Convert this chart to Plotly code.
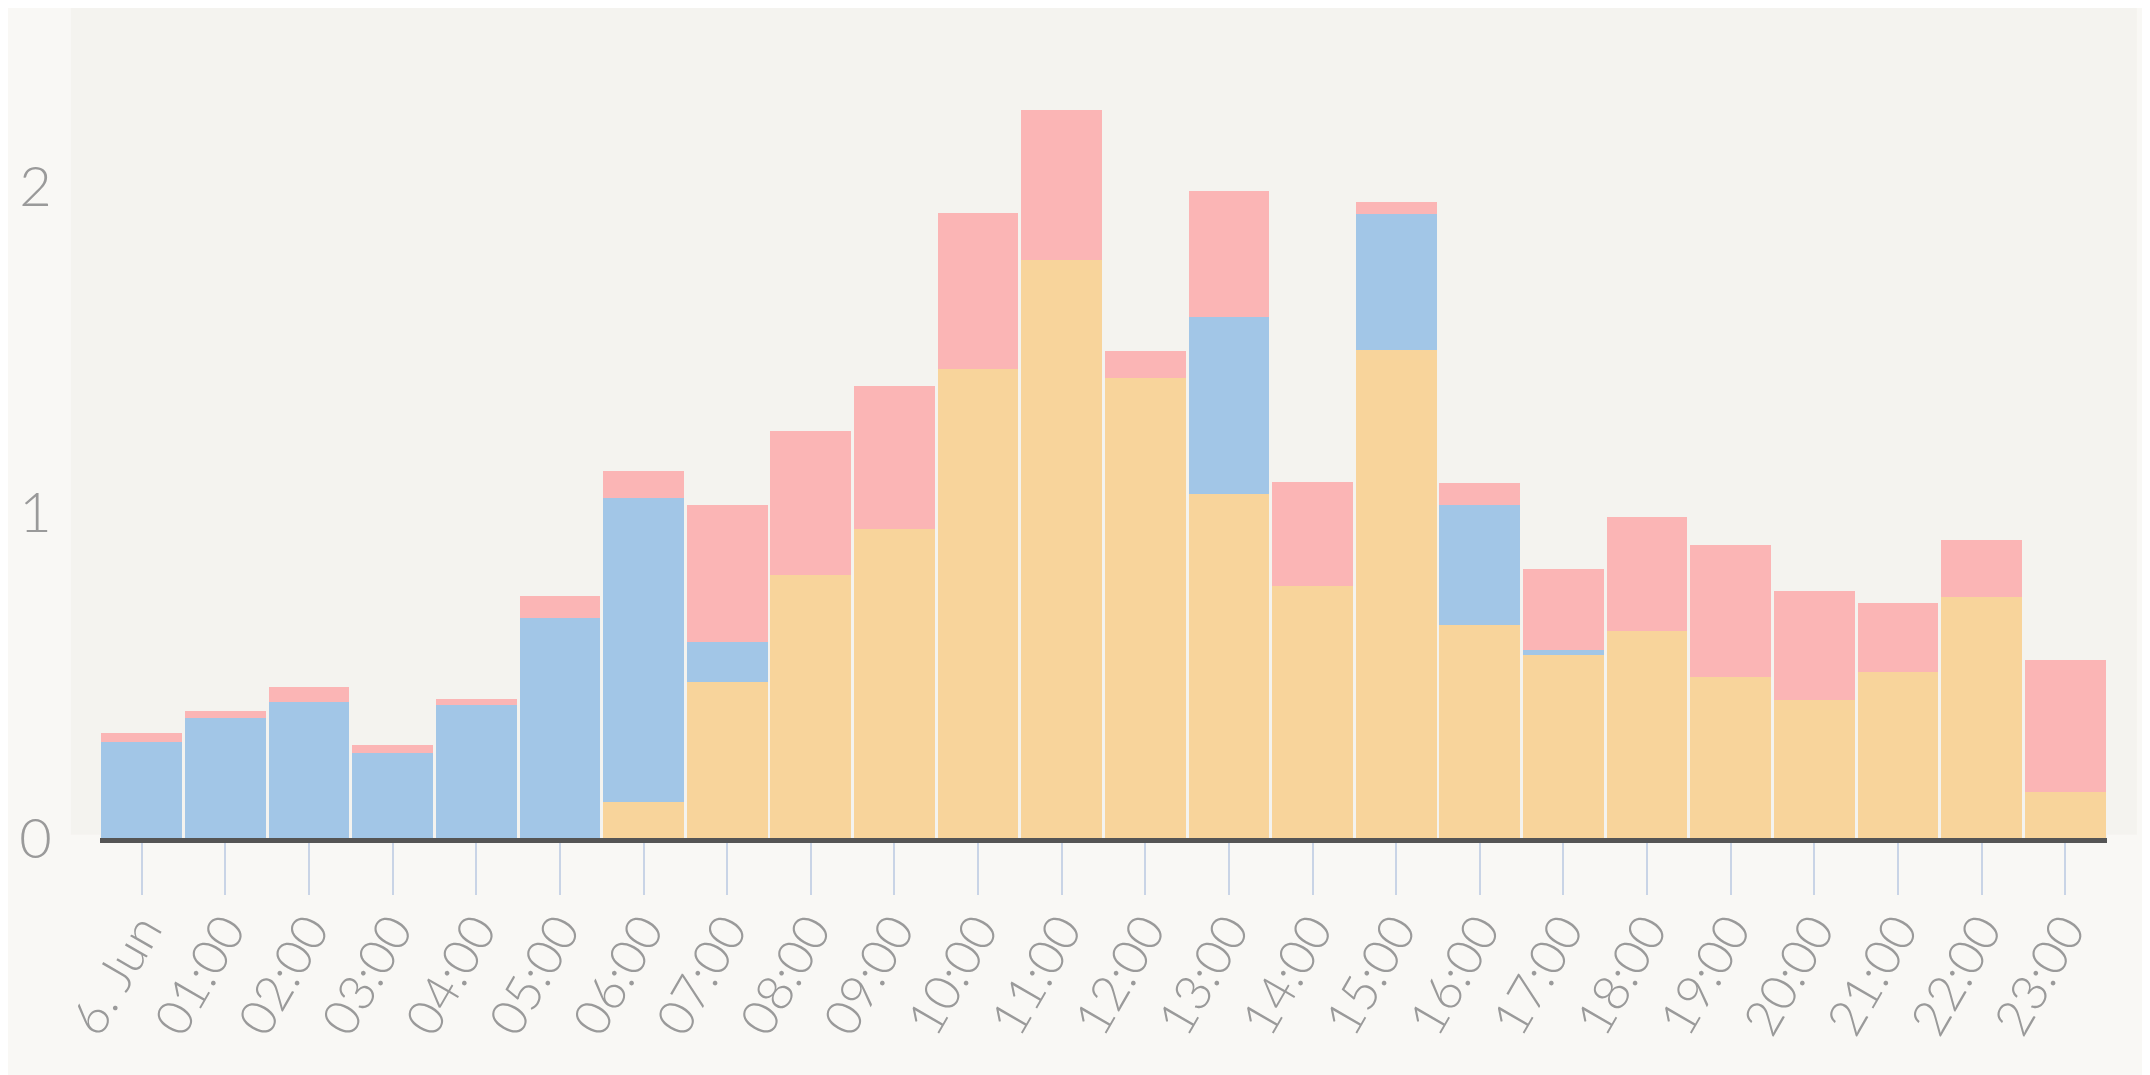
import plotly.graph_objects as go

hours = ["6. Jun", "01:00", "02:00", "03:00", "04:00", "05:00", "06:00", "07:00",
         "08:00", "09:00", "10:00", "11:00", "12:00", "13:00", "14:00", "15:00",
         "16:00", "17:00", "18:00", "19:00", "20:00", "21:00", "22:00", "23:00"]

orange = [0, 0, 0, 0, 0, 0, 0.111, 0.478, 0.808, 0.949, 1.440, 1.774,
          1.410, 1.054, 0.772, 1.497, 0.652, 0.561, 0.636, 0.495, 0.423, 0.510, 0.740, 0.140]
blue = [0.295, 0.367, 0.418, 0.262, 0.408, 0.674, 0.931, 0.122, 0, 0, 0, 0,
        0, 0.545, 0, 0.417, 0.368, 0.015, 0, 0, 0, 0, 0, 0]
pink = [0.026, 0.023, 0.044, 0.023, 0.017, 0.068, 0.085, 0.421, 0.439, 0.439, 0.476, 0.458,
        0.083, 0.387, 0.319, 0.038, 0.068, 0.248, 0.350, 0.404, 0.335, 0.210, 0.174, 0.406]

y_ticks = [0, 1, 2]

series = [("orange", orange, "#f8d49b"), ("blue", blue, "#a2c6e7"), ("pink", pink, "#fbb5b5")]

fig = go.Figure()
for name, vals, col in series:
    fig.add_trace(go.Bar(x=hours, y=vals, name=name, marker=dict(color=col, line=dict(width=0))))

fig.update_layout(
    width=2150, height=1075,
    barmode="stack", bargap=0.035,
    showlegend=False,
    paper_bgcolor="#f9f8f5",
    plot_bgcolor="#f4f3ef",
    margin=dict(l=92, r=51, t=0, b=245, pad=0, autoexpand=False),
    shapes=[dict(type="rect", xref="paper", yref="paper", x0=-0.0145, x1=1.0149,
                 y0=0.004, y1=1, fillcolor="#f4f3ef", line=dict(width=0), layer="below")],
    xaxis=dict(
        type="category", range=[-0.5, 23.5], automargin=False,
        showgrid=False, zeroline=False,
        showline=True, linecolor="#555555", linewidth=5,
        ticks="outside", ticklen=52, tickwidth=1.5, tickcolor="#c9d4e6",
        tickangle=-60, ticklabelstandoff=-14,
        tickfont=dict(family="Lato Light, Lato", size=50, color="#9a9a9a", weight=300),
    ),
    yaxis=dict(
        range=[0, 2.546], tickvals=y_ticks, automargin=False,
        showgrid=False, zeroline=False, showline=False,
        ticks="outside", ticklen=36, tickcolor="rgba(0,0,0,0)",
        tickfont=dict(family="Lato Light, Lato", size=56, color="#9a9a9a", weight=300),
    ),
)

fig.write_html("out.html")
